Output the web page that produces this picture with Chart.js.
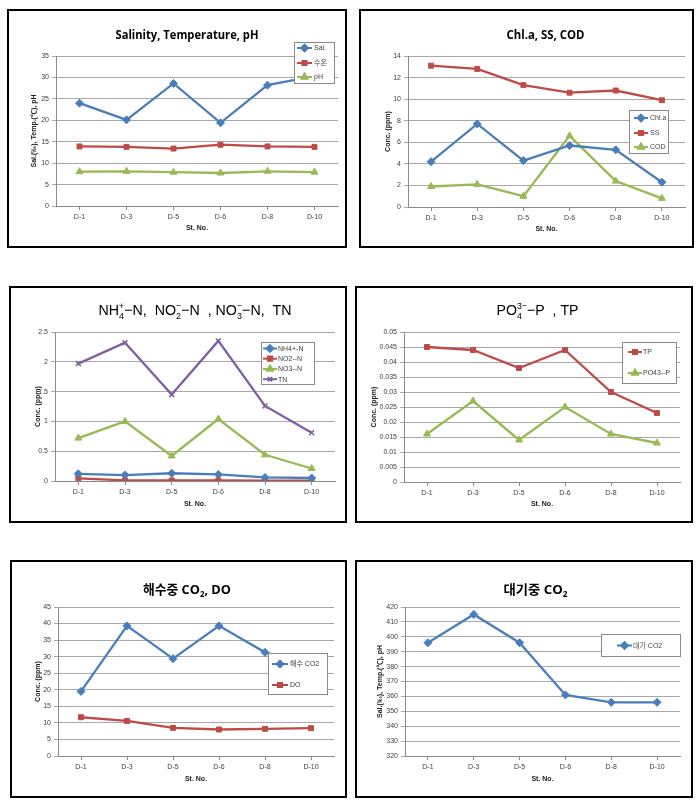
<!DOCTYPE html>
<html><head><meta charset="utf-8">
<script src="https://cdn.jsdelivr.net/npm/chart.js@4.4.1/dist/chart.umd.min.js"></script>
<style>
html,body{margin:0;padding:0;background:#fff;width:700px;height:807px;overflow:hidden;}
canvas{position:absolute;}
.bd{position:absolute;box-sizing:border-box;border:2px solid #000;pointer-events:none;}
</style></head><body>
<script>
// ---------- data ----------
const stations = ['D-1', 'D-3', 'D-5', 'D-6', 'D-8', 'D-10'];

const salinity  = [24.0, 20.1, 28.6, 19.4, 28.2, 30.3];
const waterTemp = [13.9, 13.8, 13.4, 14.3, 13.9, 13.8];
const pHValues  = [8.0, 8.1, 7.9, 7.7, 8.1, 7.9];

const chla = [4.2, 7.7, 4.3, 5.7, 5.3, 2.3];
const ss   = [13.1, 12.8, 11.3, 10.6, 10.8, 9.9];
const cod  = [1.9, 2.1, 1.0, 6.6, 2.4, 0.8];

const nh4 = [0.12, 0.10, 0.13, 0.11, 0.06, 0.05];
const no2 = [0.045, 0.01, 0.01, 0.01, 0.005, 0.005];
const no3 = [0.72, 1.0, 0.42, 1.04, 0.44, 0.21];
const tn  = [1.97, 2.32, 1.45, 2.35, 1.26, 0.81];

const tp  = [0.045, 0.044, 0.038, 0.044, 0.030, 0.023];
const po4 = [0.016, 0.027, 0.014, 0.025, 0.016, 0.013];

const seaCO2 = [19.5, 39.3, 29.4, 39.3, 31.3, 27.0];
const doVals = [11.7, 10.6, 8.5, 8.0, 8.2, 8.4];

const airCO2 = [396, 415, 396, 361, 356, 356];

// y axis ranges: [min, max, step]
const axisSal  = [0, 35, 5];
const axisChl  = [0, 14, 2];
const axisN    = [0, 2.5, 0.5];
const axisP    = [0, 0.05, 0.005];
const axisSea  = [0, 45, 5];
const axisAir  = [320, 420, 10];

// ---------- style ----------
const BLUE = '#4A7EBB', RED = '#BE4B48', GREEN = '#98B954', PURPLE = '#7D60A0';
const GRID = '#a8a8a8', AXIS = '#8a8a8a', TXT = '#404040';
const SANS = "'Liberation Sans', 'Noto Sans CJK KR', sans-serif";
const TITLE_FONT = "'Open Sans', 'Noto Sans CJK KR', sans-serif";

function drawRich(ctx, o) {
  const f = (sz) => `${o.bold ? 'bold ' : ''}${sz}px ${o.family}`;
  const subSz = o.size * 0.62;
  const parts = []; let w = 0;
  for (const s of o.segs) {
    if (s.t !== undefined) {
      ctx.font = f(o.size); const mw = ctx.measureText(s.t).width;
      parts.push({k: 't', s, w: mw}); w += mw;
    } else {
      ctx.font = f(subSz);
      const a = s.sub ? ctx.measureText(s.sub).width : 0;
      const b = s.sup ? ctx.measureText(s.sup).width : 0;
      const mw = Math.max(a, b); parts.push({k: 's', s, w: mw}); w += mw;
    }
  }
  const sx = o.width ? o.width / w : 1;
  ctx.save();
  ctx.translate(o.cx - w * sx / 2, o.cy);
  ctx.scale(sx, 1);
  ctx.fillStyle = o.color || '#000';
  ctx.textBaseline = 'alphabetic'; ctx.textAlign = 'left';
  const base = o.size * 0.36;
  let x = 0;
  for (const p of parts) {
    if (p.k === 't') { ctx.font = f(o.size); ctx.fillText(p.s.t, x, base); }
    else {
      ctx.font = f(subSz);
      if (p.s.sub) ctx.fillText(p.s.sub, x, base + o.size * 0.22);
      if (p.s.sup) ctx.fillText(p.s.sup, x, base - o.size * 0.42);
    }
    x += p.w;
  }
  ctx.restore();
}

const richTitle = {
  id: 'richTitle',
  afterDraw(chart, args, o) { if (o && o.segs) drawRich(chart.ctx, o); }
};

const boxLegend = {
  id: 'boxLegend',
  afterDraw(chart, args, o) {
    if (!o || !o.box) return;
    const ctx = chart.ctx;
    const [x1, y1, x2, y2] = o.box;
    ctx.save();
    ctx.fillStyle = '#fff';
    ctx.fillRect(x1, y1, x2 - x1, y2 - y1);
    ctx.strokeStyle = '#8a8a8a'; ctx.lineWidth = 1;
    ctx.strokeRect(Math.round(x1) + 0.5, Math.round(y1) + 0.5, Math.round(x2 - x1), Math.round(y2 - y1));
    chart.data.datasets.forEach((ds, i) => {
      const y = o.ys[i];
      ctx.strokeStyle = ds.borderColor; ctx.lineWidth = 2;
      ctx.beginPath(); ctx.moveTo(o.line[0], y); ctx.lineTo(o.line[1], y); ctx.stroke();
      ctx.fillStyle = ds.backgroundColor; ctx.strokeStyle = ds.borderColor;
      Chart.helpers.drawPoint(ctx, {pointStyle: ds.pointStyle, rotation: 0, radius: ds.pointRadius * 0.85, borderWidth: 1},
        (o.line[0] + o.line[1]) / 2, y);
      ctx.fillStyle = TXT; ctx.font = `7px ${SANS}`;
      ctx.textBaseline = 'middle'; ctx.textAlign = 'left';
      ctx.fillText(ds.label, o.textX, y + 0.5);
    });
    ctx.restore();
  }
};

function tickFmt(v) { return String(+Number(v).toFixed(4)); }

function build(p) {
  const [L, T, R, B] = p.box; const W = R - L, H = B - T;
  const [pl, pt, pr, pb] = p.plot;
  const cv = document.createElement('canvas');
  cv.width = W; cv.height = H;
  cv.style.left = L + 'px'; cv.style.top = T + 'px';
  cv.style.width = W + 'px'; cv.style.height = H + 'px';
  document.body.appendChild(cv);
  const bd = document.createElement('div');
  bd.className = 'bd';
  bd.style.left = L + 'px'; bd.style.top = T + 'px';
  bd.style.width = W + 'px'; bd.style.height = H + 'px';
  document.body.appendChild(bd);

  const lg = p.legend;
  const [mn, mx, st] = p.axis;
  new Chart(cv, {
    type: 'line',
    data: {
      labels: stations,
      datasets: p.series.map(s => ({
        label: s.label, data: s.data, borderColor: s.color, backgroundColor: s.color,
        pointStyle: s.style, pointRadius: s.r, pointBorderWidth: s.style === 'crossRot' ? 1.5 : 1,
        borderWidth: 2.3, tension: 0, fill: false, pointHoverRadius: s.r
      }))
    },
    plugins: [richTitle, boxLegend],
    options: {
      responsive: false, animation: false, events: [],
      layout: {padding: {left: 0, top: pt - T, right: R - pr, bottom: 0}},
      plugins: {
        legend: {display: false}, title: {display: false}, tooltip: {enabled: false},
        richTitle: Object.assign({}, p.title, {cx: p.title.cx - L, cy: p.title.cy - T}),
        boxLegend: {
          box: [lg.box[0] - L, lg.box[1] - T, lg.box[2] - L, lg.box[3] - T],
          ys: lg.ys.map(v => v - T), line: [lg.line[0] - L, lg.line[1] - L], textX: lg.textX - L
        }
      },
      scales: {
        x: {
          type: 'category', offset: true,
          grid: {display: true, drawOnChartArea: false, drawTicks: true, tickLength: 4, color: AXIS},
          border: {display: true, color: AXIS, width: 1},
          ticks: {color: TXT, font: {size: 7, family: SANS}, padding: 3, maxRotation: 0, autoSkip: false},
          title: {display: true, text: 'St. No.', color: '#222',
                  font: {size: 7, weight: 'bold', family: SANS, lineHeight: 1},
                  padding: {top: 0, bottom: B - p.xTitleY - 3.5}},
          afterFit: s => { s.height = B - pb; }
        },
        y: {
          min: mn, max: mx,
          ticks: {stepSize: st, color: TXT, font: {size: 7, family: SANS}, padding: 3, callback: tickFmt},
          grid: {color: GRID, tickLength: 4, drawTicks: true, lineWidth: 1},
          border: {display: true, color: AXIS, width: 1},
          title: {display: true, text: p.yTitle, color: '#222',
                  font: {size: 7, weight: 'bold', family: SANS, lineHeight: 1},
                  padding: {top: p.yTitleX - L - 3.5, bottom: 0}},
          afterFit: s => { s.width = pl - L; }
        }
      }
    }
  });
}

const panels = [
  {
    box: [7, 9, 347, 248], plot: [56, 56, 338, 206], axis: axisSal,
    title: {segs: [{t: 'Salinity, Temperature, pH'}], cx: 187, cy: 35, size: 12, bold: true, family: TITLE_FONT, width: 143},
    yTitle: 'Sal.(‰), Temp.(℃), pH', yTitleX: 34, xTitleY: 228,
    series: [
      {label: 'Sal.', data: salinity, color: BLUE, style: 'rectRot', r: 4},
      {label: '수온', data: waterTemp, color: RED, style: 'rect', r: 3.5},
      {label: 'pH', data: pHValues, color: GREEN, style: 'triangle', r: 4}
    ],
    legend: {box: [294, 42, 334, 83], ys: [48, 63, 77], line: [297, 312], textX: 314}
  },
  {
    box: [359, 9, 694, 248], plot: [408, 56, 685, 207], axis: axisChl,
    title: {segs: [{t: 'Chl.a, SS, COD'}], cx: 545.5, cy: 35, size: 12, bold: true, family: TITLE_FONT, width: 78},
    yTitle: 'Conc. (ppm)', yTitleX: 388, xTitleY: 229,
    series: [
      {label: 'Chl.a', data: chla, color: BLUE, style: 'rectRot', r: 4},
      {label: 'SS', data: ss, color: RED, style: 'rect', r: 3.5},
      {label: 'COD', data: cod, color: GREEN, style: 'triangle', r: 4}
    ],
    legend: {box: [629, 110, 668, 153], ys: [118, 133, 147], line: [634, 648], textX: 650}
  },
  {
    box: [9, 286, 347, 523], plot: [55, 332, 335, 481], axis: axisN,
    title: {segs: [{t: 'NH'}, {sub: '4', sup: '+'}, {t: '−N,  NO'}, {sub: '2', sup: '−'}, {t: '−N  , NO'}, {sub: '3', sup: '−'}, {t: '−N,  TN'}],
            cx: 195, cy: 310, size: 15, bold: false, family: SANS, width: 193},
    yTitle: 'Conc. (ppm)', yTitleX: 38, xTitleY: 504,
    series: [
      {label: 'NH4+-N', data: nh4, color: BLUE, style: 'rectRot', r: 4},
      {label: 'NO2--N', data: no2, color: RED, style: 'rect', r: 3.5},
      {label: 'NO3--N', data: no3, color: GREEN, style: 'triangle', r: 4},
      {label: 'TN', data: tn, color: PURPLE, style: 'crossRot', r: 3.5}
    ],
    legend: {box: [261, 342, 314, 384], ys: [348.5, 358.7, 369, 379.2], line: [263, 277], textX: 278}
  },
  {
    box: [355, 286, 693, 523], plot: [404, 332, 680, 482], axis: axisP,
    title: {segs: [{t: 'PO'}, {sub: '4', sup: '3−'}, {t: '−P  , TP'}],
            cx: 537.5, cy: 310, size: 15, bold: false, family: SANS, width: 82},
    yTitle: 'Conc. (ppm)', yTitleX: 374, xTitleY: 504,
    series: [
      {label: 'TP', data: tp, color: RED, style: 'rect', r: 3.5},
      {label: 'PO43--P', data: po4, color: GREEN, style: 'triangle', r: 4}
    ],
    legend: {box: [622, 342, 676, 383], ys: [352, 373], line: [628, 642], textX: 643}
  },
  {
    box: [10, 560, 347, 798], plot: [58, 607, 334, 756], axis: axisSea,
    title: {segs: [{t: '해수중 CO'}, {sub: '2'}, {t: ', DO'}], cx: 187, cy: 589, size: 13, bold: true, family: TITLE_FONT, width: 88},
    yTitle: 'Conc. (ppm)', yTitleX: 38, xTitleY: 779,
    series: [
      {label: '해수 CO2', data: seaCO2, color: BLUE, style: 'rectRot', r: 4},
      {label: 'DO', data: doVals, color: RED, style: 'rect', r: 3.5}
    ],
    legend: {box: [268, 653, 327, 694], ys: [664, 685], line: [272, 288], textX: 290}
  },
  {
    box: [355, 560, 693, 798], plot: [405, 607, 680, 756], axis: axisAir,
    title: {segs: [{t: '대기중 CO'}, {sub: '2'}], cx: 535.5, cy: 589, size: 13, bold: true, family: TITLE_FONT, width: 64},
    yTitle: 'Sal.(‰), Temp.(℃), pH', yTitleX: 380, xTitleY: 779,
    series: [
      {label: '대기 CO2', data: airCO2, color: BLUE, style: 'rectRot', r: 4}
    ],
    legend: {box: [601, 634, 680, 656], ys: [645.5], line: [617, 632], textX: 633}
  }
];

panels.forEach(build);
</script>
</body></html>
